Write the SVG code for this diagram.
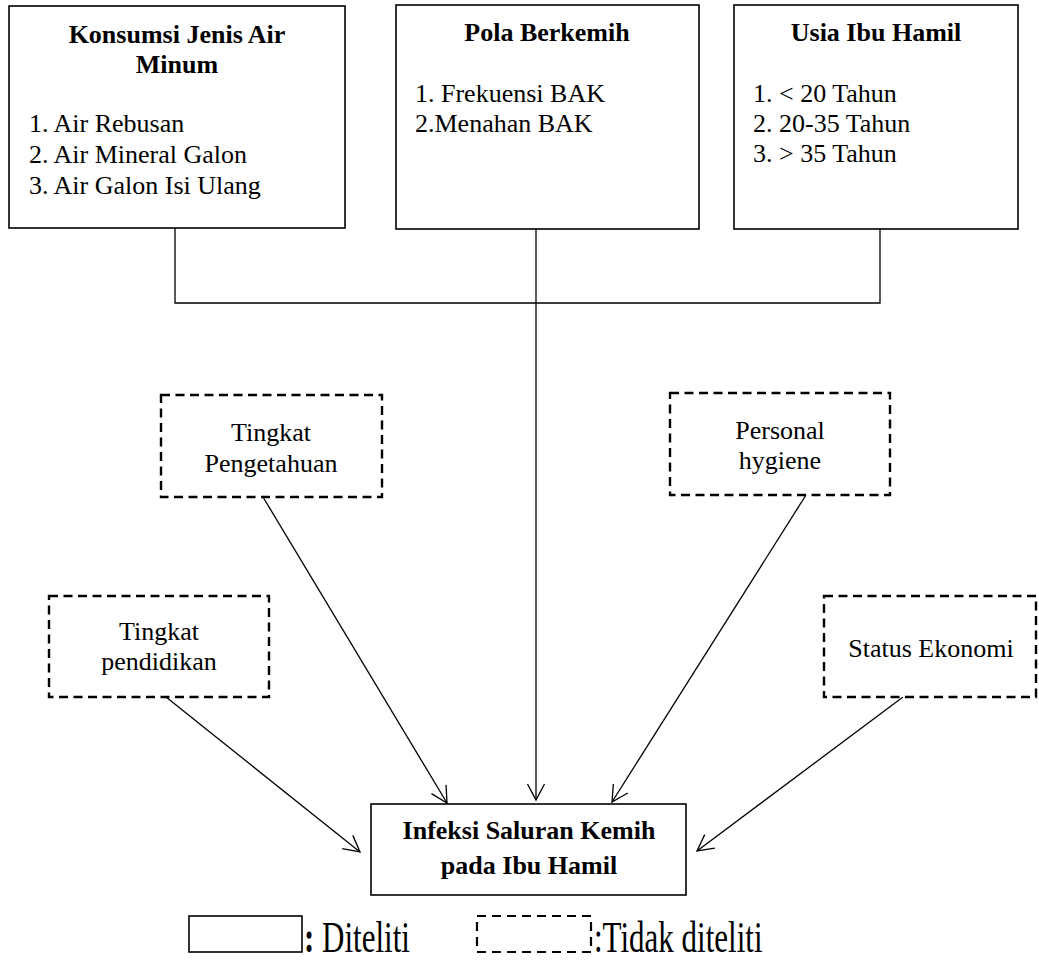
<svg xmlns="http://www.w3.org/2000/svg" width="1039" height="961" viewBox="0 0 1039 961">
<style>
  text { font-family: "Liberation Serif", "Times New Roman", serif; fill: #000; }
  .t { font-size: 26px; font-weight: bold; text-anchor: middle; }
  .l { font-size: 26px; }
  .c { font-size: 26px; text-anchor: middle; }
  .solid { fill: #fff; stroke: #000; stroke-width: 1.6; }
  .dash { fill: #fff; stroke: #000; stroke-width: 2.4; stroke-dasharray: 9 5.5; }
  .conn { fill: none; stroke: #000; stroke-width: 1.3; }
  .arr { fill: none; stroke: #000; stroke-width: 1.3; marker-end: url(#ah); }
</style>
<defs>
  <marker id="ah" markerUnits="userSpaceOnUse" markerWidth="20" markerHeight="22" refX="17" refY="10" orient="auto" overflow="visible">
    <path d="M1,1.5 L17,10 L1,18.5" fill="none" stroke="#000" stroke-width="1.3"/>
  </marker>
</defs>
<rect width="1039" height="961" fill="#fff"/>

<g id="connectors">
  <path class="conn" d="M175,228 V303 H880 V229"/>
  <line class="arr" x1="536" y1="229" x2="536" y2="800"/>
  <line class="arr" x1="263" y1="497" x2="447" y2="803"/>
  <line class="arr" x1="806" y1="495" x2="612" y2="802"/>
  <line class="arr" x1="166" y1="697" x2="360" y2="852"/>
  <line class="arr" x1="903" y1="697" x2="697" y2="851"/>
</g>

<g id="node-konsumsi">
  <rect class="solid" x="9" y="6" width="336" height="222"/>
  <text class="t" x="177" y="43">Konsumsi Jenis Air</text>
  <text class="t" x="177" y="73">Minum</text>
  <text class="l" x="29" y="132">1. Air Rebusan</text>
  <text class="l" x="29" y="163">2. Air Mineral Galon</text>
  <text class="l" x="29" y="194">3. Air Galon Isi Ulang</text>
</g>

<g id="node-pola">
  <rect class="solid" x="396" y="5" width="303" height="224"/>
  <text class="t" x="547" y="41">Pola Berkemih</text>
  <text class="l" x="415" y="102">1. Frekuensi BAK</text>
  <text class="l" x="415" y="132">2.Menahan BAK</text>
</g>

<g id="node-usia">
  <rect class="solid" x="734" y="5" width="284" height="224"/>
  <text class="t" x="876" y="41">Usia Ibu Hamil</text>
  <text class="l" x="753" y="102">1. &lt; 20 Tahun</text>
  <text class="l" x="753" y="132">2. 20-35 Tahun</text>
  <text class="l" x="753" y="162">3. &gt; 35 Tahun</text>
</g>

<g id="node-pengetahuan">
  <rect class="dash" x="161" y="395" width="221" height="102"/>
  <text class="c" x="271" y="441">Tingkat</text>
  <text class="c" x="271" y="472">Pengetahuan</text>
</g>

<g id="node-hygiene">
  <rect class="dash" x="670" y="393" width="220" height="102"/>
  <text class="c" x="780" y="439">Personal</text>
  <text class="c" x="780" y="469">hygiene</text>
</g>

<g id="node-pendidikan">
  <rect class="dash" x="49" y="596" width="220" height="101"/>
  <text class="c" x="159" y="640">Tingkat</text>
  <text class="c" x="159" y="670">pendidikan</text>
</g>

<g id="node-ekonomi">
  <rect class="dash" x="824" y="596" width="212" height="101"/>
  <text class="c" x="931" y="657">Status Ekonomi</text>
</g>

<g id="node-isk">
  <rect class="solid" x="371" y="804" width="315" height="91"/>
  <text class="t" x="529" y="839">Infeksi Saluran Kemih</text>
  <text class="t" x="529" y="874">pada Ibu Hamil</text>
</g>

<g id="legend">
  <rect class="solid" x="189" y="916" width="113" height="36"/>
  <text transform="translate(304,952) scale(1,1.45)" font-size="31"><tspan font-weight="bold">:</tspan> Diteliti</text>
  <rect class="dash" x="477" y="916" width="114" height="36" style="stroke-dasharray: 9 6; stroke-width: 2.2"/>
  <text transform="translate(594,952) scale(1,1.45)" font-size="31">:Tidak diteliti</text>
</g>
</svg>
